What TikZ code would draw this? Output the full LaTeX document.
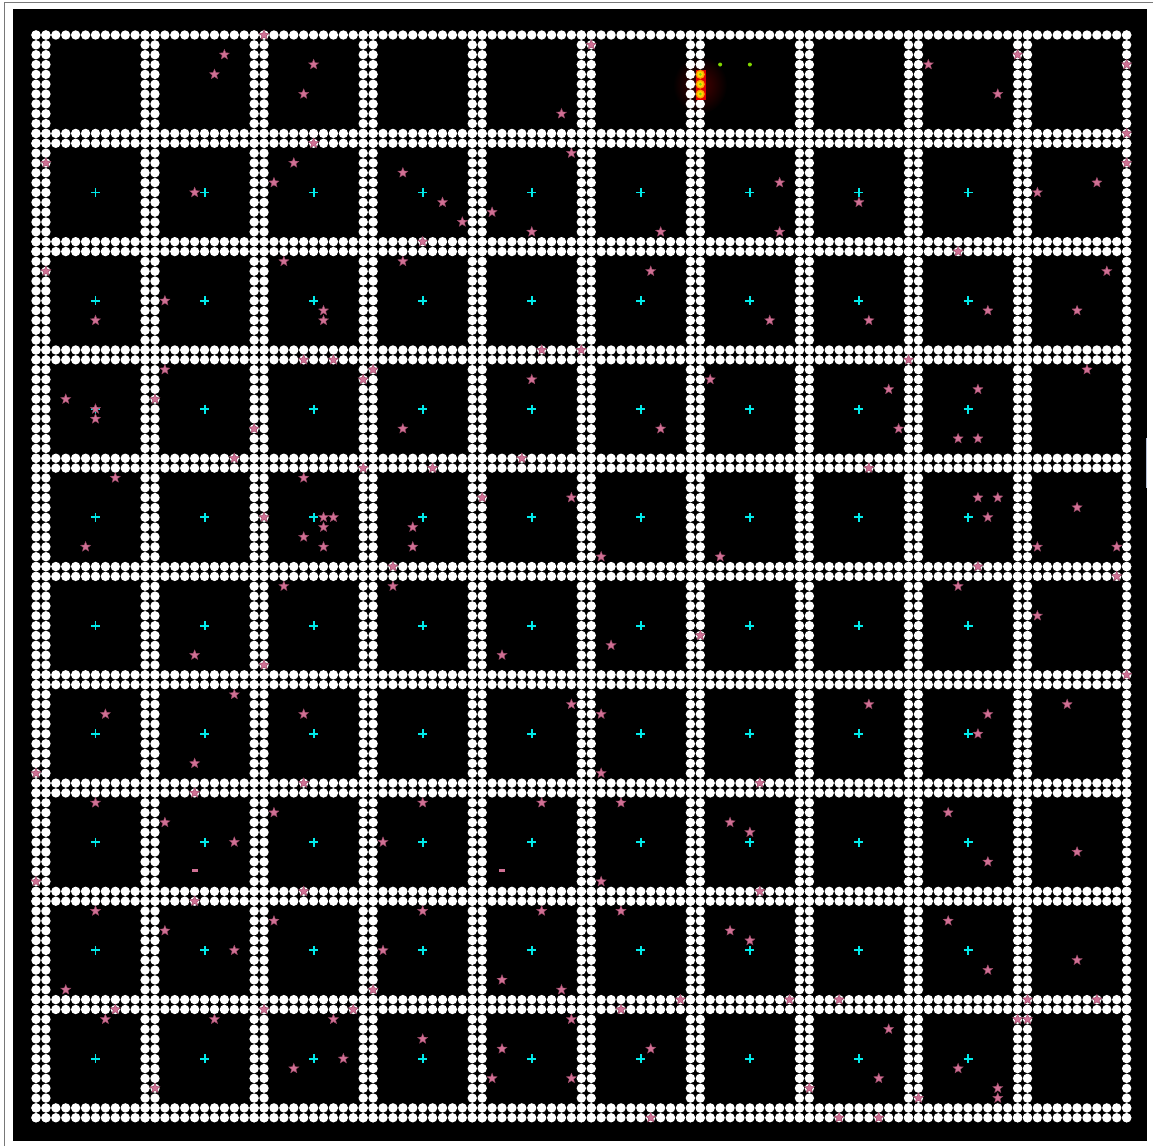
\documentclass[tikz,border=0pt]{standalone}
\usetikzlibrary{shapes.geometric}
\definecolor{starpink}{RGB}{208,112,148}
\definecolor{stardark}{RGB}{150,70,100}
\definecolor{crosscyan}{RGB}{0,235,235}
\definecolor{framegrey}{RGB}{120,120,120}
\definecolor{edgeblue}{RGB}{180,190,210}
\definecolor{glowred}{RGB}{75,0,0}
\definecolor{hotred}{RGB}{225,0,0}
\definecolor{hotorange}{RGB}{250,165,0}
\definecolor{hotyellow}{RGB}{255,215,0}
\definecolor{limegreen}{RGB}{130,215,0}
\tikzset{
  wallpt/.style={fill=white},
  starmark/.style={star, star points=5, star point ratio=2.3, minimum size=10.5pt, inner sep=0pt, fill=starpink, draw=stardark, line width=0.4pt},
  crossmark/.style={draw=crosscyan, line width=1.9pt},
}
\begin{document}
\begin{tikzpicture}[x=1pt,y=-1pt]
\useasboundingbox (0,0) rectangle (1153,1146);
\fill[white] (0,0) rectangle (1153,1146);
\draw[framegrey, line width=1pt] (4,1146) -- (4,2) -- (1153,2);
\fill[black] (13,9) rectangle (1147,1141);
\draw[edgeblue, line width=1pt] (1146,438) -- (1146,488);
% glow
\shade[inner color=glowred, outer color=black] (700,85) ellipse (27 and 29);
% vertical walls
\foreach \k in {0,...,9}{
  \foreach \d in {0,1}{
    \foreach \j in {0,...,110}{
      \fill[wallpt] ({36+9.915*(11*\k+\d)},{35+9.843*\j}) circle (4.7);
    }
  }
}
\foreach \j in {0,...,110}{\fill[wallpt] ({36+9.915*110},{35+9.843*\j}) circle (4.7);}
% horizontal walls
\foreach \k in {1,...,10}{
  \foreach \d in {-1,0}{
    \foreach \i in {0,...,110}{
      \fill[wallpt] ({36+9.915*\i},{35+9.843*(11*\k+\d)}) circle (4.7);
    }
  }
}
\foreach \i in {0,...,110}{\fill[wallpt] ({36+9.915*\i},35) circle (4.7);}
% hot spot
\fill[hotred] (695.5,70) rectangle (705.5,100);
\foreach \j in {4,5,6}{
  \fill[hotorange] ({36+9.915*67},{35+9.843*\j}) circle (4.5);
  \fill[hotyellow] ({36+9.915*67},{35+9.843*\j}) circle (3.0);
  \fill[limegreen] ({36+9.915*67},{35+9.843*\j}) circle (1.5);
}
\fill[limegreen] ({36+9.915*69},{35+9.843*3}) circle (2);
\fill[limegreen] ({36+9.915*72},{35+9.843*3}) circle (2);
% crosses
\foreach \k in {0,...,8}{
  \foreach \m in {1,...,9}{
    \draw[crossmark] ({36+9.915*(11*\k+6)-4.5},{35+9.843*(11*\m+5)}) -- ++(9,0)
                     ({36+9.915*(11*\k+6)},{35+9.843*(11*\m+5)-4.5}) -- ++(0,9);
  }
}
% stars
\foreach \i/\j [count=\n] in {
23/0,19/2,18/4,28/3,27/6,56/1,53/8,99/2,90/3,97/6,110/3,110/10,
28/11,1/13,16/16,26/13,24/15,54/12,37/14,41/17,43/19,46/18,50/20,63/20,110/13,75/15,83/17,101/16,107/15,75/20,
39/21,37/23,62/24,74/29,1/24,25/23,13/27,6/29,29/28,29/29,93/22,108/24,84/29,96/28,105/28,
51/32,55/32,27/33,30/33,88/33,
13/34,34/34,33/35,50/35,68/35,106/34,86/36,95/36,3/37,12/37,6/38,6/39,22/40,37/40,63/40,87/40,93/41,95/41,
20/43,49/43,33/44,40/44,84/44,
8/45,27/45,45/47,54/47,95/47,97/47,105/48,23/49,29/49,30/49,96/49,29/50,38/50,27/51,5/52,29/52,38/52,101/52,109/52,57/53,69/53,36/54,95/54,109/55,
25/56,36/56,93/56,101/59,67/61,58/62,16/63,47/63,23/64,110/65,
20/67,54/68,84/68,104/68,7/69,27/69,57/69,96/69,95/71,16/74,0/75,57/75,27/76,73/76,
16/77,6/78,39/78,51/78,59/78,24/79,92/79,13/80,70/80,72/81,20/82,35/82,105/83,96/84,0/86,57/86,27/87,73/87,
16/88,6/89,39/89,51/89,59/89,24/90,92/90,13/91,70/91,72/92,20/93,35/93,105/94,96/95,47/96,3/97,34/97,53/97,65/98,76/98,81/98,100/98,107/98,
8/99,23/99,32/99,59/99,7/100,18/100,30/100,54/100,99/100,100/100,86/101,39/102,47/103,62/103,31/104,26/105,93/105,46/106,54/106,85/106,12/107,78/107,97/107,89/108,97/108,62/110,81/110,85/110}{
  \node[starmark] (star\n) at ({36+9.915*\i},{35+9.843*\j}) {};
}
% partly hidden stars
\fill[starpink] (191.5,869) rectangle (197.5,872);
\fill[starpink] (499,869) rectangle (505,872);
\end{tikzpicture}
\end{document}
